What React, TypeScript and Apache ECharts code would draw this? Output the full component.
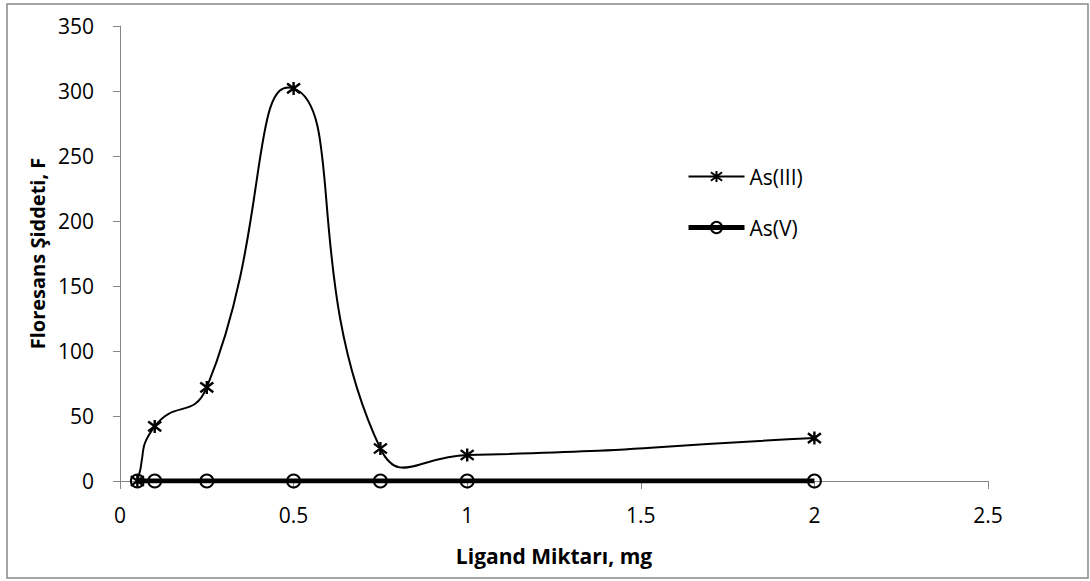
import React, { useEffect, useRef } from "react";
import * as echarts from "echarts";

const xTitle = "Ligand Miktarı, mg";
const yTitle = "Floresans Şiddeti, F";
const as3X = [0.05, 0.1, 0.25, 0.5, 0.75, 1, 2];
const as3Y = [0, 42, 72, 302, 25, 20, 33];
const as5X = [0.05, 0.1, 0.25, 0.5, 0.75, 1, 2];
const as5Y = [0, 0, 0, 0, 0, 0, 0];
const seriesNames = ["As(III)", "As(V)"];

const FONT = "'Open Sans', 'Noto Sans', sans-serif";
const ASTERISK = "path://M0,-10L0,10M-7.5,-7.5L7.5,7.5M-7.5,7.5L7.5,-7.5";
const SMOOTH = 0.55;

function renderCurve(params: any, api: any) {
  const i = params.dataIndex;
  const n = as3X.length;
  if (i >= n - 1) return { type: "group", children: [] };
  const pts = as3X.map((x, j) => api.coord([x, as3Y[j]]));
  const cp = (k: number) => {
    const p = pts[k];
    const prev = pts[Math.max(0, k - 1)];
    const next = pts[Math.min(n - 1, k + 1)];
    const vx = next[0] - prev[0];
    const vy = next[1] - prev[1];
    const d0 = Math.hypot(p[0] - prev[0], p[1] - prev[1]);
    const d1 = Math.hypot(next[0] - p[0], next[1] - p[1]);
    const s = d0 + d1 || 1;
    return {
      before: [p[0] - vx * SMOOTH * (d0 / s), p[1] - vy * SMOOTH * (d0 / s)],
      after: [p[0] + vx * SMOOTH * (d1 / s), p[1] + vy * SMOOTH * (d1 / s)],
    };
  };
  const a = cp(i).after;
  const b = cp(i + 1).before;
  return {
    type: "bezierCurve",
    shape: {
      x1: pts[i][0],
      y1: pts[i][1],
      x2: pts[i + 1][0],
      y2: pts[i + 1][1],
      cpx1: a[0],
      cpy1: a[1],
      cpx2: b[0],
      cpy2: b[1],
    },
    style: { stroke: "#000", lineWidth: 2, fill: "none" },
  };
}

export default function App() {
  const ref = useRef<HTMLDivElement>(null);
  useEffect(() => {
    const chart = echarts.init(ref.current!, null, { renderer: "svg" });
    chart.setOption({
      animation: false,
      backgroundColor: "#fff",
      textStyle: { fontFamily: FONT },
      graphic: [
        {
          type: "rect",
          shape: { x: 7, y: 4, width: 1081, height: 574 },
          style: { fill: "none", stroke: "#888", lineWidth: 1.5 },
          silent: true,
        },
      ],
      grid: { left: 120, right: 102, top: 26, bottom: 100, containLabel: false },
      legend: {
        left: 681,
        top: 161,
        orient: "vertical",
        itemGap: 30,
        itemWidth: 56,
        itemHeight: 14,
        data: [
          { name: seriesNames[0], lineStyle: { opacity: 1, width: 2, color: "#000" } },
          { name: seriesNames[1], lineStyle: { opacity: 1, width: 5, color: "#000" } },
        ],
        textStyle: { fontFamily: FONT, fontSize: 21, color: "#000" },
      },
      xAxis: {
        type: "value",
        min: 0,
        max: 2.5,
        interval: 0.5,
        name: xTitle,
        nameLocation: "middle",
        nameGap: 64,
        nameTextStyle: { fontFamily: FONT, fontSize: 21, fontWeight: "bold", color: "#000" },
        axisLine: { show: true, lineStyle: { color: "#868686", width: 1 } },
        axisTick: { show: true, length: 8, lineStyle: { color: "#868686" } },
        axisLabel: { fontFamily: FONT, fontSize: 21, color: "#000", margin: 23 },
        splitLine: { show: false },
      },
      yAxis: {
        type: "value",
        min: 0,
        max: 350,
        interval: 50,
        name: yTitle,
        nameLocation: "middle",
        nameGap: 72,
        nameRotate: 90,
        nameTextStyle: { fontFamily: FONT, fontSize: 20, fontWeight: "bold", color: "#000" },
        axisLine: { show: true, lineStyle: { color: "#868686", width: 1 } },
        axisTick: { show: true, length: 7, lineStyle: { color: "#868686" } },
        axisLabel: { fontFamily: FONT, fontSize: 21, color: "#000", margin: 26 },
        splitLine: { show: false },
      },
      series: [
        {
          name: seriesNames[1],
          type: "line",
          data: as5X.map((x, i) => [x, as5Y[i]]),
          symbol: "circle",
          symbolSize: 13,
          showAllSymbol: true,
          lineStyle: { color: "#000", width: 5 },
          itemStyle: { color: "none", borderColor: "#000", borderWidth: 2 },
          z: 2,
        },
        {
          name: "As(III) curve",
          type: "custom",
          data: as3X.map((x, i) => [x, as3Y[i]]),
          renderItem: renderCurve,
          encode: { x: 0, y: 1 },
          clip: false,
          z: 3,
        },
        {
          name: seriesNames[0],
          type: "line",
          data: as3X.map((x, i) => [x, as3Y[i]]),
          symbol: ASTERISK,
          symbolSize: 13,
          showAllSymbol: true,
          lineStyle: { color: "#000", width: 2, opacity: 0 },
          itemStyle: { color: "none", borderColor: "#000", borderWidth: 2.4 },
          z: 4,
        },
      ],
    });
    return () => chart.dispose();
  }, []);
  return (
    <div
      ref={ref}
      style={{ position: "absolute", left: 0, top: 0, width: 1090, height: 581 }}
    />
  );
}
